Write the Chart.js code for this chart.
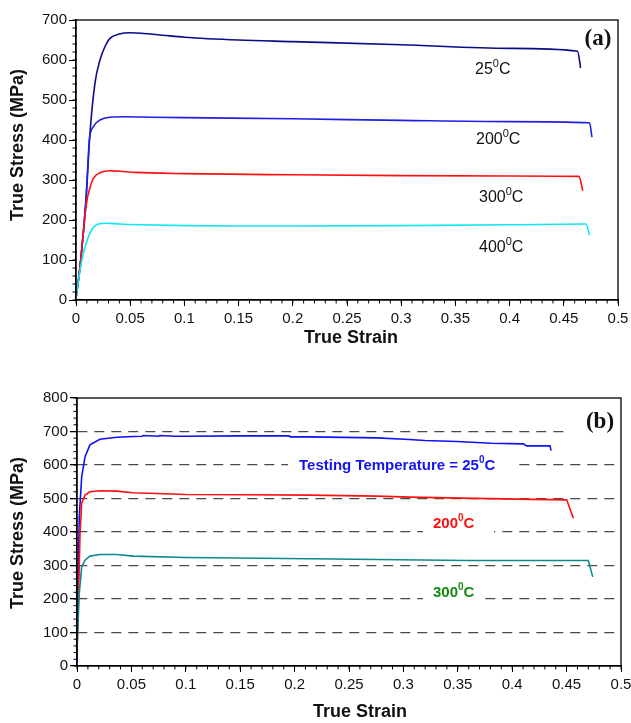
<!DOCTYPE html>
<html>
<head>
<meta charset="utf-8">
<script src="https://cdn.jsdelivr.net/npm/chart.js@4.4.0/dist/chart.umd.min.js"></script>
<style>
  body { margin: 0; background: #fff; }
  .wrap { position: absolute; left: 0; width: 631px; }
  #wrapA { top: 0; height: 360px; }
  #wrapB { top: 360px; height: 363px; }
</style>
</head>
<body>
<div class="wrap" id="wrapA"><canvas id="chartA"></canvas></div>
<div class="wrap" id="wrapB"><canvas id="chartB"></canvas></div>
<script>
  // (a) true stress / true strain at four temperatures
  var strainA25 = [0, 0.0037, 0.0092, 0.0129, 0.0175, 0.0221, 0.027, 0.0313, 0.04, 0.05, 0.06, 0.08, 0.1, 0.15, 0.2, 0.3, 0.4, 0.4627, 0.4655];
  var stressA25 = [5, 83, 250, 417, 542, 600, 635, 654, 665, 668, 667, 662, 657, 650, 646, 638, 629, 622, 580];
  var strainA200 = [0, 0.0037, 0.0092, 0.011, 0.0123, 0.016, 0.0221, 0.031, 0.045, 0.07, 0.1, 0.2, 0.3, 0.4, 0.4737, 0.476];
  var stressA200 = [5, 83, 250, 340, 400, 433, 450, 457, 458, 457, 456, 453, 449, 446, 443, 407];
  var strainA300 = [0, 0.0037, 0.0085, 0.0105, 0.0123, 0.016, 0.0221, 0.031, 0.04, 0.055, 0.1, 0.2, 0.3, 0.4, 0.464, 0.4675];
  var stressA300 = [5, 83, 215, 255, 275, 304, 318, 323, 322, 319, 316, 313, 311, 310, 309, 273];
  var strainA400 = [0, 0.0035, 0.0068, 0.0104, 0.0144, 0.0206, 0.028, 0.04, 0.06, 0.1, 0.15, 0.2, 0.3, 0.4, 0.4706, 0.4737];
  var stressA400 = [5, 70, 117, 150, 175, 190, 192, 190, 188, 186, 185, 185, 186, 188, 190, 162];

  // (b) three temperatures
  var strainB25 = [0, 0.001, 0.0021, 0.0043, 0.0074, 0.0119, 0.0211, 0.0365, 0.0518, 0.06, 0.061, 0.075, 0.076, 0.09, 0.1, 0.15, 0.195, 0.196, 0.2142, 0.2754, 0.3015, 0.3199, 0.349, 0.3811, 0.4102, 0.4133, 0.4347, 0.4357];
  var stressB25 = [10, 250, 446, 565, 625, 660, 677, 683, 685, 686, 688, 686, 688, 686, 686, 687, 687, 684, 684, 681, 677, 673, 670, 665, 663, 657, 657, 643];
  var strainB200 = [0, 0.0015, 0.0028, 0.0043, 0.0074, 0.0119, 0.0211, 0.0365, 0.0518, 0.08, 0.1, 0.15, 0.2142, 0.2754, 0.3061, 0.3536, 0.4041, 0.4501, 0.4562];
  var stressB200 = [38, 217, 396, 486, 510, 520, 523, 522, 517, 514, 512, 511, 510, 507, 504, 501, 498, 496, 441];
  var strainB300 = [0, 0.0021, 0.0043, 0.0074, 0.0119, 0.0211, 0.0365, 0.0518, 0.1, 0.2142, 0.2754, 0.3589, 0.47, 0.474];
  var stressB300 = [60, 217, 296, 316, 328, 333, 333, 328, 324, 320, 318, 315, 315, 266];

  var strainTicks = { min: 0, max: 0.5, step: 0.05, minor: 0.01 };
  var stressTicksA = { min: 0, max: 700, step: 100, minor: 20 };
  var stressTicksB = { min: 0, max: 800, step: 100, minor: 20 };

  Chart.defaults.font.family = '"Liberation Sans", Arial, sans-serif';
  Chart.defaults.color = '#111';

  function pts(xs, ys) {
    return xs.map(function (x, i) { return { x: x, y: ys[i] }; });
  }

  function line(label, xs, ys, color, smooth) {
    return {
      label: label,
      data: pts(xs, ys),
      showLine: true,
      borderColor: color,
      borderWidth: 1.6,
      pointRadius: 0,
      fill: false,
      tension: 0,
      cubicInterpolationMode: smooth ? 'monotone' : 'default'
    };
  }

  function drawLabel(ctx, l) {
    var size = l.size, x = l.x;
    ctx.fillStyle = l.color || '#111';
    ctx.textBaseline = 'alphabetic';
    ctx.textAlign = 'left';
    l.parts.forEach(function (p) {
      var sup = p.charAt(0) === '^';
      var t = sup ? p.slice(1) : p;
      var s = sup ? Math.round(size * 0.68) : size;
      ctx.font = (l.bold ? 'bold ' : '') + s + 'px "Liberation Sans", Arial, sans-serif';
      ctx.fillText(t, x, l.y - (sup ? size * 0.44 : 0));
      x += ctx.measureText(t).width;
    });
  }

  var extras = {
    id: 'extras',
    beforeDatasetsDraw: function (chart, args, opts) {
      var ctx = chart.ctx;
      ctx.save();
      ctx.fillStyle = '#fff';
      (opts.boxes || []).forEach(function (b) {
        ctx.fillRect(b[0], b[1], b[2] - b[0], b[3] - b[1]);
      });
      ctx.restore();
    },
    afterDraw: function (chart, args, opts) {
      var ctx = chart.ctx, a = chart.chartArea;
      var xs = chart.scales.x, ys = chart.scales.y;
      var i, n, px;
      ctx.save();
      ctx.strokeStyle = '#000';
      ctx.lineWidth = 1.3;
      ctx.strokeRect(a.left, a.top, a.right - a.left, a.bottom - a.top);

      ctx.lineWidth = 1;
      ctx.beginPath();
      n = Math.round((xs.max - xs.min) / opts.minorX);
      for (i = 0; i <= n; i++) {
        px = xs.getPixelForValue(xs.min + i * opts.minorX);
        ctx.moveTo(px, a.bottom);
        ctx.lineTo(px, a.bottom + 3.5);
      }
      n = Math.round((ys.max - ys.min) / opts.minorY);
      for (i = 0; i <= n; i++) {
        px = ys.getPixelForValue(ys.min + i * opts.minorY);
        ctx.moveTo(a.left + 1, px);
        ctx.lineTo(a.left - 3.5, px);
      }
      ctx.stroke();

      (opts.labels || []).forEach(function (l) { drawLabel(ctx, l); });

      if (opts.panel) {
        ctx.font = 'bold 23px "Liberation Serif", "Times New Roman", serif';
        ctx.fillStyle = '#111';
        ctx.textAlign = 'center';
        ctx.textBaseline = 'middle';
        ctx.fillText(opts.panel.text, opts.panel.x, opts.panel.y);
      }

      ctx.font = 'bold 18px "Liberation Sans", Arial, sans-serif';
      ctx.fillStyle = '#111';
      ctx.textAlign = 'center';
      ctx.textBaseline = 'middle';
      ctx.fillText('True Strain', opts.xTitle[0], opts.xTitle[1]);
      ctx.translate(opts.yTitle[0], opts.yTitle[1]);
      ctx.rotate(-Math.PI / 2);
      ctx.fillText('True Stress (MPa)', 0, 0);
      ctx.restore();
    }
  };

  function scales(yTicks, yWidth, xHeight, dashed) {
    return {
      x: {
        type: 'linear',
        min: strainTicks.min,
        max: strainTicks.max,
        afterFit: function (s) {
          s.height = xHeight;
          s.paddingLeft = 0;
          s.paddingRight = 0;
        },
        ticks: {
          stepSize: strainTicks.step,
          maxRotation: 0,
          autoSkip: false,
          padding: 4,
          font: { size: 15 },
          callback: function (v) { return String(+v.toFixed(2)); }
        },
        grid: { drawOnChartArea: false, tickLength: 6, tickColor: '#000' },
        border: { color: '#000', width: 1.3 }
      },
      y: {
        min: yTicks.min,
        max: yTicks.max,
        afterFit: function (s) {
          s.width = yWidth;
          s.paddingTop = 0;
          s.paddingBottom = 0;
        },
        ticks: { stepSize: yTicks.step, padding: 2, font: { size: 15 } },
        grid: dashed ? {
          drawOnChartArea: true,
          tickLength: 7,
          tickColor: '#000',
          lineWidth: 1.3,
          color: function (c) {
            var v = c.tick && c.tick.value;
            return (v === yTicks.min || v === yTicks.max) ? 'rgba(0,0,0,0)' : '#4a4a4a';
          }
        } : { drawOnChartArea: false, tickLength: 7, tickColor: '#000' },
        border: { color: '#000', width: 1.3, dash: dashed ? [10, 7] : [] }
      }
    };
  }

  new Chart(document.getElementById('chartA'), {
    type: 'scatter',
    data: {
      datasets: [
        line('400', strainA400, stressA400, '#10e6f4', true),
        line('300', strainA300, stressA300, '#ff1010', true),
        line('200', strainA200, stressA200, '#1f1fe6', true),
        line('25', strainA25, stressA25, '#0c0c88', true)
      ]
    },
    options: {
      responsive: true,
      maintainAspectRatio: false,
      animation: false,
      layout: { padding: { left: 0, right: 13, top: 20, bottom: 0 } },
      scales: scales(stressTicksA, 76, 60, false),
      plugins: {
        legend: { display: false },
        tooltip: { enabled: false },
        extras: {
          minorX: strainTicks.minor,
          minorY: stressTicksA.minor,
          xTitle: [351, 338],
          yTitle: [18, 145],
          panel: { text: '(a)', x: 598, y: 39 },
          labels: [
            { x: 475, y: 74, size: 16, parts: ['25', '^0', 'C'] },
            { x: 476, y: 144, size: 16, parts: ['200', '^0', 'C'] },
            { x: 479, y: 202, size: 16, parts: ['300', '^0', 'C'] },
            { x: 479, y: 252, size: 16, parts: ['400', '^0', 'C'] }
          ]
        }
      }
    },
    plugins: [extras]
  });

  new Chart(document.getElementById('chartB'), {
    type: 'scatter',
    data: {
      datasets: [
        line('300', strainB300, stressB300, '#0e8a8a', false),
        line('200', strainB200, stressB200, '#ff1010', false),
        line('25', strainB25, stressB25, '#1010ff', false)
      ]
    },
    options: {
      responsive: true,
      maintainAspectRatio: false,
      animation: false,
      layout: { padding: { left: 0, right: 10, top: 38, bottom: 0 } },
      scales: scales(stressTicksB, 77, 57, true),
      plugins: {
        legend: { display: false },
        tooltip: { enabled: false },
        extras: {
          minorX: strainTicks.minor,
          minorY: stressTicksB.minor,
          xTitle: [360, 352],
          yTitle: [18, 173],
          panel: { text: '(b)', x: 600, y: 62 },
          boxes: [[567, 45, 620, 80], [288, 92, 515, 116], [423, 150, 494, 178], [423, 220, 485, 245]],
          labels: [
            { x: 299, y: 110, size: 15, bold: true, color: '#1414f0', parts: ['Testing Temperature = 25', '^0', 'C'] },
            { x: 433, y: 168, size: 15, bold: true, color: '#ff1010', parts: ['200', '^0', 'C'] },
            { x: 433, y: 237, size: 15, bold: true, color: '#148a14', parts: ['300', '^0', 'C'] }
          ]
        }
      }
    },
    plugins: [extras]
  });
</script>
</body>
</html>
